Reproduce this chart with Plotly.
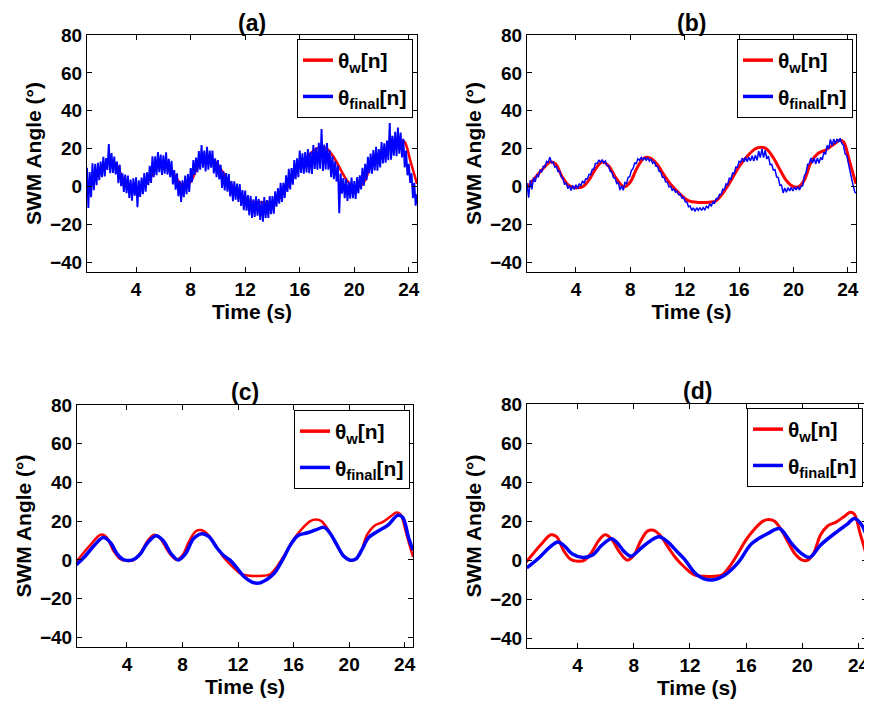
import numpy as np
import plotly.graph_objects as go

# ---------------- data ----------------
# reference steering angle theta_w[n] (same in all panels), knots
T_W = [0.35, 0.8, 1.4, 2.1, 2.5, 3.0, 3.5, 4.0, 4.5, 5.0, 5.5, 5.95, 6.4, 7.0, 7.55, 8.0, 8.5, 9.0, 9.4,
       9.9, 10.5, 11.0, 11.6, 12.3, 13.0, 13.8, 14.3, 14.8, 15.3, 16.0, 16.6, 17.2, 17.6, 18.0, 18.5,
       19.0, 19.5, 20.0, 20.4, 20.8, 21.3, 21.8, 22.4, 23.0, 23.4, 23.7, 24.1, 24.6]
W = [-1, 3, 8, 13, 12, 5, 0.5, -0.5, 0, 4, 10, 13, 11, 4, 0, 2.5, 10, 15, 15.3,
     12.5, 6, 1, -3.5, -7.5, -8.3, -8.2, -7.5, -3.5, 2, 10.5, 16, 20, 20.8, 20, 15.5,
     9, 3, 0, 0, 3.5, 13, 17.5, 19.5, 22.5, 24.5, 23.5, 14, 1.5]

# panel (c) theta_final[n]
T_C = [0.35, 1.0, 1.7, 2.3, 2.8, 3.3, 3.8, 4.4, 4.9, 5.5, 6.1, 6.6, 7.2, 7.7, 8.2, 8.8, 9.4, 9.9,
       10.5, 11.0, 11.4, 11.9, 12.4, 13.0, 13.5, 14.1, 14.6, 15.2, 15.8, 16.3, 17.0, 17.6, 18.2,
       18.6, 19.1, 19.6, 20.1, 20.5, 20.9, 21.4, 22.0, 22.8, 23.5, 23.85, 24.3, 24.6]
C = [-2.5, 2, 8, 11.5, 9, 3, 0, 0, 2.5, 9, 12.5, 10, 3, 0, 3, 11, 13.5, 12,
     6, 2, 0, -4, -8.5, -11.5, -12, -10, -7, 0, 8, 12.5, 14, 15.5, 16.8,
     14, 8, 2, -0.2, 0.5, 5, 11.5, 14.5, 18, 23, 22, 11, 5]

# panel (d) theta_final[n]
T_D = [0.38, 1.3, 2.0, 2.6, 3.1, 3.6, 4.4, 5.1, 5.7, 6.4, 6.8, 7.3, 7.8, 8.5, 9.2, 9.8, 10.4, 11.0,
       11.6, 12.5, 13.5, 14.4, 15.4, 16.4, 17.5, 18.35, 18.8, 19.2, 19.9, 20.5, 21.3, 22.5, 23.2,
       23.7, 24.2, 24.66]
D = [-4, 1.5, 6.5, 9.3, 7, 3.3, 1.4, 2.8, 7.5, 11, 9, 4.5, 2, 6, 10, 12, 9.5, 5,
     0.5, -7.5, -10.2, -8, -1.5, 8.5, 13.5, 16.2, 13, 8.8, 3.6, 1.4, 7.8, 14.8, 18.5,
     21.4, 18.3, 10.5]

# panel (b) theta_final[n], sampled every 0.12 s from 0.40 s
B = [2, -5.8, 3.4, -1.4, 4.8, 2.5, 6.1, 5.3, 8.7, 7.9,
     10.7, 10.5, 13.3, 12.8, 15.6, 12.7, 13.0, 10.3, 10.6, 8.0,
     8.2, 5.2, 4.6, 1.1, 2.0, -1.0, 0.5, -2.0, 0.6, -1.5,
     1.0, -0.9, 1.6, 0.6, 2.8, 2.0, 4.2, 4.1, 6.5, 6.3,
     9.1, 9.3, 12.3, 12.1, 14.1, 12.9, 14.1, 12.5, 13.5, 11.1,
     11.0, 8.1, 7.8, 4.8, 4.6, 1.6, 2.2, -1.8, 0.5, -1.9,
     2.2, 1.6, 5.0, 5.3, 8.6, 9.5, 12.4, 12.3, 14.7, 13.9,
     15.4, 14.1, 15.5, 13.8, 15.3, 13.5, 14.6, 12.4, 13.1, 10.8,
     10.8, 8.1, 7.8, 5.0, 5.0, 2.5, 2.4, -0.1, 0.2, -1.9,
     -1.2, -2.9, -2.3, -4.3, -3.9, -6.0, -5.7, -8.0, -8.1, -10.6,
     -10.2, -12.5, -11.2, -13.0, -11.1, -12.5, -11.0, -12.5, -11.0, -12.2,
     -10.3, -11.2, -9.2, -10.1, -8.0, -8.6, -6.2, -6.3, -4.0, -4.1,
     -1.3, -1.6, 1.5, 1.0, 4.5, 3.9, 7.1, 6.9, 10.3, 10.2,
     13.4, 12.9, 15.1, 13.1, 15.6, 13.2, 15.5, 13.6, 16.3, 13.5,
     16.6, 13.9, 18.8, 15.3, 20.0, 15.3, 19.2, 14.6, 16.1, 11.6,
     11.8, 8.8, 9.0, 5.1, 4.8, 0.8, 0.9, -3.3, -0.7, -2.9,
     -0.5, -2.2, -0.4, -2.3, -0.3, -1.7, 0.1, -1.7, 0.3, 0.4,
     5.8, 7.1, 11.8, 12.0, 15.1, 12.5, 15.1, 12.0, 15.2, 12.3,
     15.5, 14.1, 18.2, 17.0, 21.8, 20.1, 24.9, 21.5, 25.1, 22.6,
     25.2, 23.6, 25.5, 22.7, 21.8, 17.3, 16.4, 12.2, 9.2, 3.4,
     0.2, -3.0, -3.5]

# panel (a) theta_final[n], sampled every 0.1 s from 0.4 s
A = [10, -11.2, 7.7, -5.5, 12.3, -1.8, 12, 0.8, 12.6, 3.4,
     13.2, 5, 15.7, 5.4, 15.1, 8.8, 22.5, 7.1, 17.7, 7.3,
     15.9, 6.5, 13.2, 1.9, 11.6, 0.3, 7, -2.8, 6.4, -3.4,
     5.8, -6, 3.8, -7.4, 4.4, -4.8, 5, -10.8, 3.4, -5.4,
     4.8, -4, 7.2, -2.6, 7.6, 0.8, 11, 2, 16, 5,
     16, 6, 18.3, 7.6, 16.9, 6.2, 16.5, 6.8, 18.1, 6.4,
     14.7, 5, 13.6, 1.2, 8.8, -1.6, 7, -5, 3, -8,
     3.3, -5.5, 5.8, -4, 6.6, -2.8, 9.8, 2.4, 14, 6.2,
     15.4, 7.6, 18.8, 9, 22, 10, 19, 8, 21, 9,
     19, 10, 19, 7, 15, 5, 14, 3.8, 11.6, -0.6,
     8.2, -2, 7.2, -2.6, 6.6, -5.2, 3, -7.6, 2.8, -6.8,
     1.6, -8, 1.4, -10.2, -1.8, -12.4, -2, -12.7, -4.4, -15.1,
     -4.8, -16.5, -6.7, -15.9, -5.1, -15.3, -6.5, -17.5, -7.5, -18.5,
     -5.5, -16.5, -7, -16.5, -5, -14.5, -5, -14.2, -2.4, -10.6,
     -0.8, -9, 2, -8, 2, -6, 6, -2.8, 9.4, -1.4,
     9.8, 1, 14, 4, 15, 5, 19, 7.3, 17.6, 6.9,
     18.2, 7.5, 19.8, 7.1, 18.4, 6.7, 22, 9.3, 20.6, 8.9,
     23.2, 9.5, 30.4, 8.3, 22.2, 9.1, 23, 9, 19, 5,
     16, 4, 13.4, 2.8, 11.2, -14, 7, -3.7, 4.6, -6.1,
     4.2, -7.5, 2.6, -6.3, 4.8, -6.1, 3, -6.5, 5, -3.5,
     6, -1.5, 10, 0.5, 12, 3.4, 15.8, 7.1, 17.5, 6.9,
     19.3, 8.6, 21, 8.4, 19.8, 10.1, 23.5, 12.2, 22.9, 12.6,
     24.3, 14, 33.6, 14.2, 26.8, 16.4, 29, 16.1, 31.2, 17.4,
     28.5, 15.4, 25.3, 10.2, 19, 6, 12, 2, 7, -6,
     2, -10, -4]

X_TICKS = [4, 8, 12, 16, 20, 24]
Y_TICKS = [-40, -20, 0, 20, 40, 60, 80]
PANEL_TITLES = ["(a)", "(b)", "(c)", "(d)"]
NAME_W = "θ<sub>w</sub>[n]"
NAME_F = "θ<sub>final</sub>[n]"

t_a = np.linspace(0.4, 24.6, len(A))
t_b = np.linspace(0.4, 24.64, len(B))

# ---------------- figure ----------------
FONT = "Liberation Sans, Arial, sans-serif"
RED = "#ff0000"
BLUE = "#0000ff"
OFF = 8                      # default page margin of the html body
W_PX, H_PX = 872 - OFF, 704 - OFF


def fx(px):
    return (px - OFF) / W_PX


def fy(py):
    return 1 - (py - OFF) / H_PX


# plot areas in screen pixels (left, right, top, bottom)
boxes = [(87, 417, 35, 272), (527, 856, 35, 272), (77, 413, 405, 647), (527, 867, 404, 648)]
legend_pos = [(413, 39), (853, 39), (410, 410), (863, 408)]
title_y = [23, 23, 392, 391]

blue_series = [(t_a, A, 1.9, "linear"), (t_b, B, 1.5, "linear"),
               (T_C, C, 3.5, "spline"), (T_D, D, 3.5, "spline")]
red_widths = [2.5, 3.0, 2.5, 3.0]

fig = go.Figure()
layout = dict(width=W_PX, height=H_PX, margin=dict(l=0, r=0, t=0, b=0, autoexpand=False),
              paper_bgcolor="white", plot_bgcolor="white",
              font=dict(family=FONT, color="black"), showlegend=True, annotations=[])

for i in range(4):
    sfx = "" if i == 0 else str(i + 1)
    xa, ya = "x" + sfx, "y" + sfx
    leg = "legend" + sfx
    fig.add_trace(go.Scatter(x=T_W, y=W, mode="lines", name=NAME_W, showlegend=False,
                             line=dict(color=RED, width=red_widths[i], shape="spline", smoothing=1.0),
                             xaxis=xa, yaxis=ya))
    tx, vy, wd, shp = blue_series[i]
    line = dict(color=BLUE, width=wd, shape=shp)
    if shp == "spline":
        line["smoothing"] = 1.0
    fig.add_trace(go.Scatter(x=tx, y=vy, mode="lines", name=NAME_F, line=line, showlegend=False,
                             xaxis=xa, yaxis=ya))
    # legend entries (thick sample lines as in the reference)
    fig.add_trace(go.Scatter(x=[None], y=[None], mode="lines", name=NAME_W,
                             line=dict(color=RED, width=3.5), xaxis=xa, yaxis=ya,
                             legend=leg, legendgroup="w" + sfx))
    fig.add_trace(go.Scatter(x=[None], y=[None], mode="lines", name=NAME_F,
                             line=dict(color=BLUE, width=3.5), xaxis=xa, yaxis=ya,
                             legend=leg, legendgroup="f" + sfx))
    l, r, t, b = boxes[i]
    common = dict(showline=True, linecolor="black", linewidth=1, mirror="ticks",
                  ticks="inside", ticklen=5, tickcolor="black", showgrid=False, zeroline=False,
                  automargin=False,
                  tickfont=dict(family=FONT, size=19, color="black", weight="bold"))
    layout["xaxis" + sfx] = dict(common, domain=[fx(l), min(1.0, fx(r))], anchor=ya,
                                 range=[0.4, 24.6], tickvals=X_TICKS,
                                 title=dict(text="Time (s)", standoff=0,
                                            font=dict(family=FONT, size=21, color="black", weight="bold")))
    layout["yaxis" + sfx] = dict(common, domain=[fy(b), fy(t)], anchor=xa,
                                 range=[-45, 80], tickvals=Y_TICKS,
                                 title=dict(text="SWM Angle (°)", standoff=2,
                                            font=dict(family=FONT, size=21, color="black", weight="bold")))
    lx, ly = legend_pos[i]
    layout[leg] = dict(x=fx(lx), y=fy(ly), xanchor="right", yanchor="top",
                       bordercolor="black", borderwidth=1, bgcolor="white",
                       font=dict(family=FONT, size=21, color="black", weight="bold"),
                       itemwidth=30, tracegroupgap=6)
    layout["annotations"].append(dict(text=PANEL_TITLES[i], xref="paper", yref="paper",
                                      x=fx((l + r) / 2), y=fy(title_y[i]),
                                      xanchor="center", yanchor="middle", showarrow=False,
                                      font=dict(family=FONT, size=23, color="black", weight="bold")))

fig.update_layout(**layout)
fig.write_html("out.html")
